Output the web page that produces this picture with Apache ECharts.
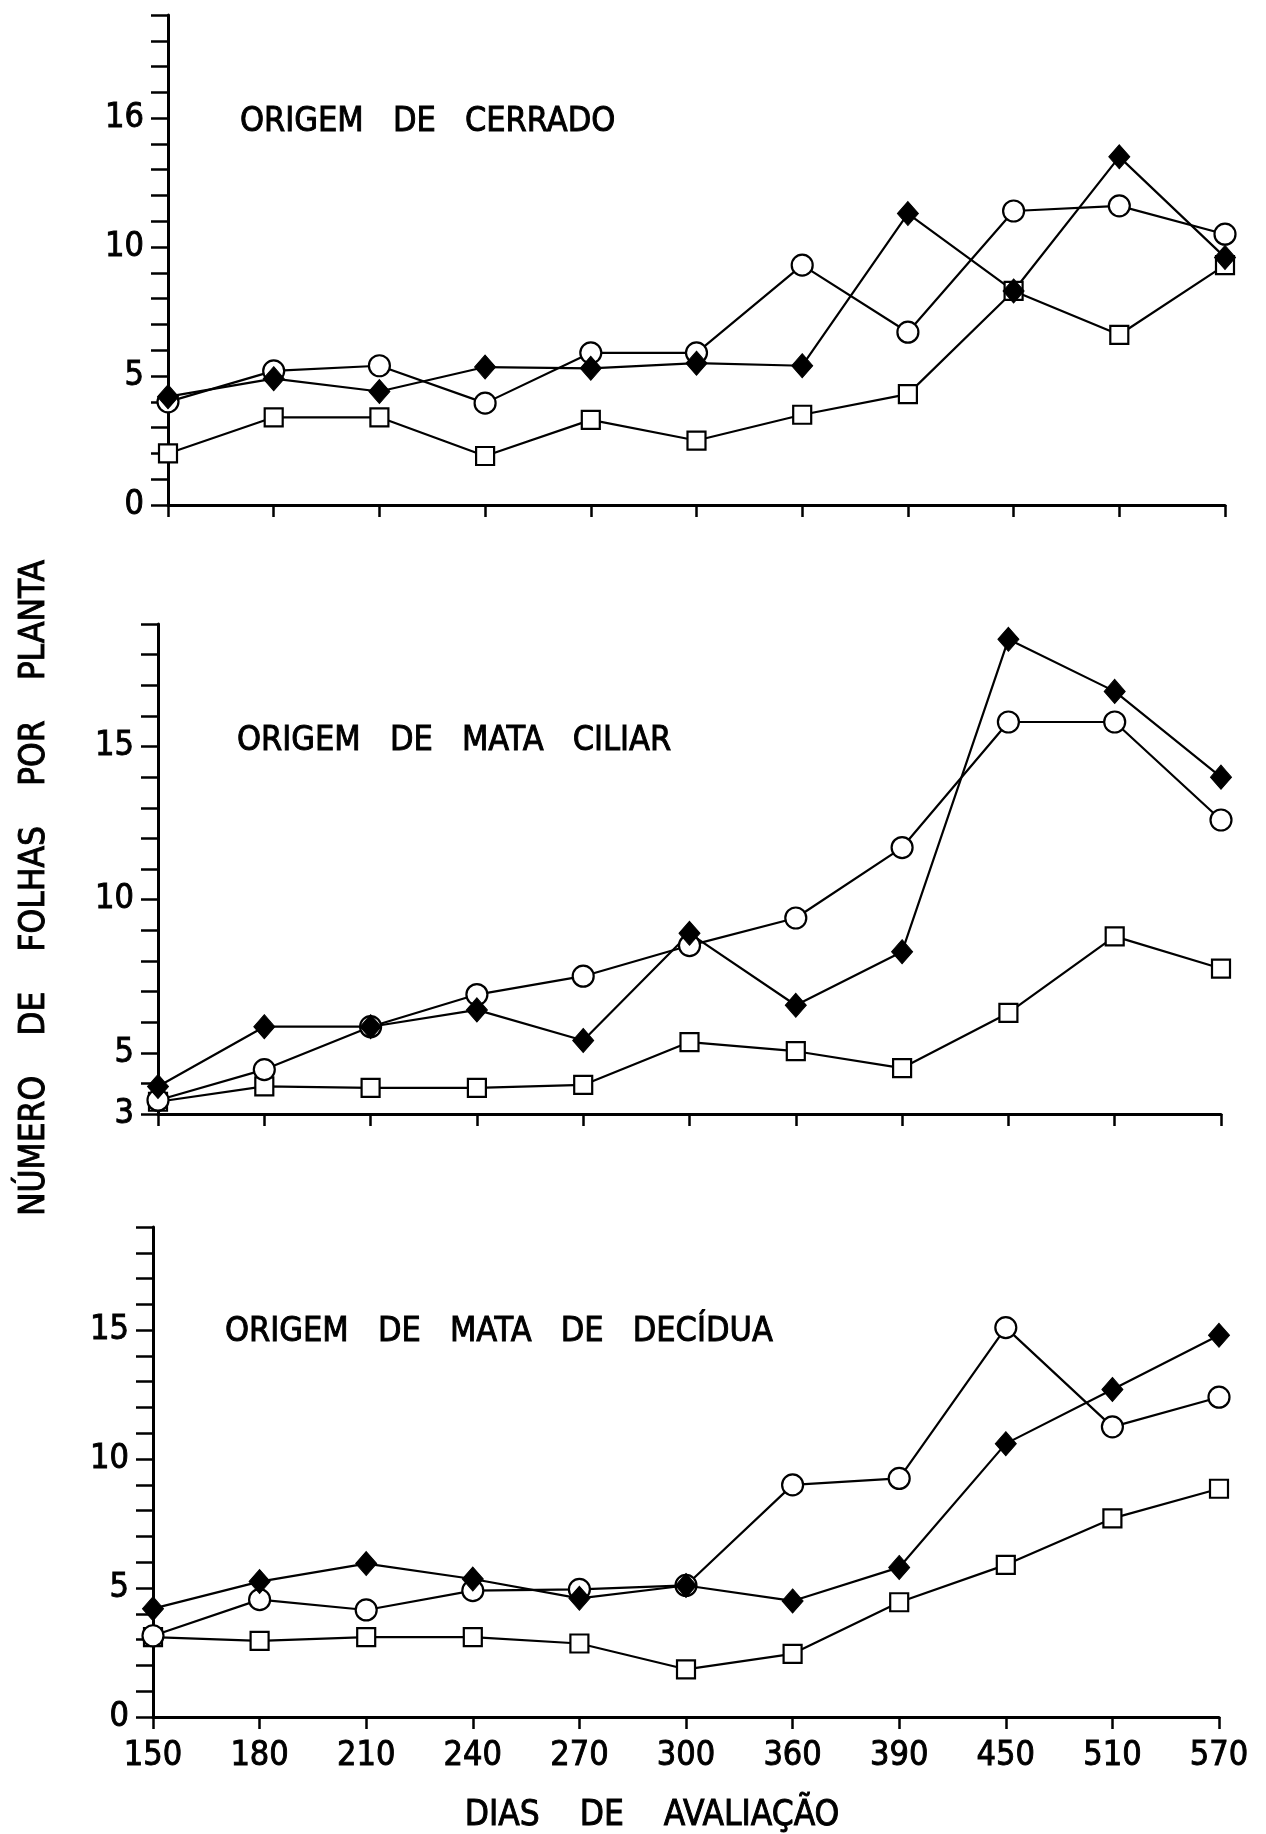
<!DOCTYPE html>
<html>
<head>
<meta charset="utf-8">
<script src="https://cdn.jsdelivr.net/npm/echarts@6/dist/echarts.min.js"></script>
<style>
html,body{margin:0;padding:0;background:#fff;}
#chart{width:1266px;height:1834px;}
</style>
</head>
<body>
<div id="chart"></div>
<script>
// Categories: days of evaluation
const dias = ['150','180','210','240','270','300','360','390','450','510','570'];

// Panel titles
const panelTitles = ['ORIGEM DE CERRADO', 'ORIGEM DE MATA CILIAR', 'ORIGEM DE MATA DE DECÍDUA'];
const yTitle = 'NÚMERO DE FOLHAS POR PLANTA';
const xTitle = 'DIAS DE AVALIAÇÃO';

// Y tick labels (value -> printed label)
const topTickLabels = {0:'0', 5:'5', 10:'10', 15:'16'};
const midTickLabels = {3:'3', 5:'5', 10:'10', 15:'15'};
const botTickLabels = {0:'0', 5:'5', 10:'10', 15:'15'};

// Origem de Cerrado
const cerradoCirculo  = [4.0, 5.2, 5.4, 3.95, 5.9, 5.9, 9.3, 6.7, 11.4, 11.6, 10.5];
const cerradoLosango  = [4.2, 4.9, 4.4, 5.35, 5.3, 5.5, 5.4, 11.3, 8.3, 13.5, 9.6];
const cerradoQuadrado = [2.0, 3.4, 3.4, 1.9, 3.3, 2.5, 3.5, 4.3, 8.3, 6.6, 9.3];

// Origem de Mata Ciliar
const ciliarCirculo  = [3.45, 4.45, 5.85, 6.9, 7.5, 8.5, 9.4, 11.7, 15.8, 15.8, 12.6];
const ciliarLosango  = [3.9, 5.85, 5.85, 6.4, 5.4, 8.9, 6.55, 8.3, 18.5, 16.8, 14.0];
const ciliarQuadrado = [3.4, 3.9, 3.85, 3.85, 3.95, 5.35, 5.05, 4.5, 6.3, 8.8, 7.75];

// Origem de Mata de Decídua
const deciduaCirculo  = [3.15, 4.55, 4.15, 4.9, 4.95, 5.1, 9.0, 9.25, 15.1, 11.25, 12.4];
const deciduaLosango  = [4.2, 5.25, 5.95, 5.35, 4.6, 5.1, 4.5, 5.8, 10.6, 12.7, 14.8];
const deciduaQuadrado = [3.1, 2.95, 3.1, 3.1, 2.85, 1.85, 2.45, 4.45, 5.9, 7.7, 8.85];

const FONT = "'DejaVu Sans Condensed', 'DejaVu Sans', sans-serif";

const chart = echarts.init(document.getElementById('chart'), null, {renderer:'canvas'});

const grids = [
  {left:168, top:15,   width:1057, height:490},
  {left:158, top:624,  width:1063, height:490},
  {left:153, top:1227, width:1066, height:490}
];
const yMins = [0, 3, 0];
const tickMaps = [topTickLabels, midTickLabels, botTickLabels];

function xAxisDef(i, showLabels){
  return {
    type:'category', gridIndex:i, data:dias, boundaryGap:false,
    axisLine:{show:true, lineStyle:{color:'#000', width:3}},
    axisTick:{show:true, alignWithLabel:true, length:12, lineStyle:{color:'#000', width:2.5}},
    axisLabel:{show:showLabels, color:'#000', fontFamily:FONT, fontSize:34, margin:22, interval:0,
      textBorderColor:'#000', textBorderWidth:0.9},
    splitLine:{show:false}
  };
}
function yAxisDef(i){
  const map = tickMaps[i];
  return {
    type:'value', gridIndex:i, min:yMins[i], max:19, interval:1,
    axisLine:{show:true, lineStyle:{color:'#000', width:3}},
    axisTick:{show:true, length:17, lineStyle:{color:'#000', width:2.5}},
    axisLabel:{show:true, color:'#000', fontFamily:FONT, fontSize:34, margin:24,
      textBorderColor:'#000', textBorderWidth:0.9,
      formatter:function(v){ return map[v] !== undefined ? map[v] : ''; }},
    splitLine:{show:false}
  };
}

const styles = {
  circulo:{symbol:'circle', symbolSize:21, itemStyle:{color:'#fff', borderColor:'#000', borderWidth:2.2}},
  quadrado:{symbol:'rect', symbolSize:18, itemStyle:{color:'#fff', borderColor:'#000', borderWidth:2.2}},
  losango:{symbol:'diamond', symbolSize:[21,24], itemStyle:{color:'#000', borderColor:'#000', borderWidth:1}}
};
function ser(name, data, kind, i){
  const s = styles[kind];
  return {
    name:name, type:'line', xAxisIndex:i, yAxisIndex:i, data:data,
    symbol:s.symbol, symbolSize:s.symbolSize, itemStyle:s.itemStyle,
    lineStyle:{color:'#000', width:2.2}, showSymbol:true, silent:true
  };
}

function spaced(t, n){ return t.split(' ').join(' '.repeat(n)); }
function txt(x, y, text, size, rot, align){
  const el = {type:'text', x:x, y:y,
    style:{text:text, font:size+'px '+FONT, fill:'#000', stroke:'#000', lineWidth:0.9,
      textAlign: align, textVerticalAlign:'middle'}};
  if (rot) el.rotation = rot;
  return el;
}

const option = {
  backgroundColor:'#fff',
  animation:false,
  grid:grids,
  xAxis:[xAxisDef(0,false), xAxisDef(1,false), xAxisDef(2,true)],
  yAxis:[yAxisDef(0), yAxisDef(1), yAxisDef(2)],
  series:[
    ser('Quadrado', cerradoQuadrado, 'quadrado', 0),
    ser('Círculo', cerradoCirculo, 'circulo', 0),
    ser('Losango', cerradoLosango, 'losango', 0),
    ser('Quadrado', ciliarQuadrado, 'quadrado', 1),
    ser('Círculo', ciliarCirculo, 'circulo', 1),
    ser('Losango', ciliarLosango, 'losango', 1),
    ser('Quadrado', deciduaQuadrado, 'quadrado', 2),
    ser('Círculo', deciduaCirculo, 'circulo', 2),
    ser('Losango', deciduaLosango, 'losango', 2)
  ],
  graphic:[
    txt(240, 122, spaced(panelTitles[0],3), 34, 0, 'left'),
    txt(237, 741, spaced(panelTitles[1],3), 34, 0, 'left'),
    txt(225, 1332, spaced(panelTitles[2],3), 34, 0, 'left'),
    txt(35, 888, spaced(yTitle,4), 35, Math.PI/2, 'center'),
    txt(652, 1816, spaced(xTitle,4), 35, 0, 'center')
  ]
};
chart.setOption(option);
</script>
</body>
</html>
